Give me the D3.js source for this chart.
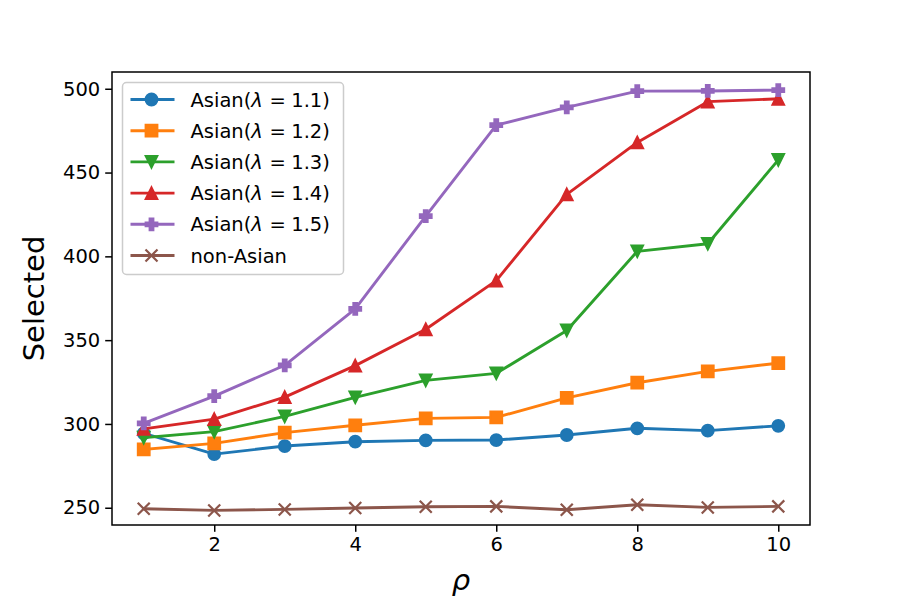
<!DOCTYPE html>
<html>
<head>
<meta charset="utf-8">
<title>Selected vs rho</title>
<style>
    body { margin: 0; background: #fff; }
    svg { display: block; }
    text { font-family: "DejaVu Sans", sans-serif; fill: #000; }
</style>
<script src="https://cdnjs.cloudflare.com/ajax/libs/d3/7.8.5/d3.min.js"></script>
</head>
<body>
<script>
// data
const rho = [1, 2, 3, 4, 5, 6, 7, 8, 9, 10];
const asian11 = [294.4, 282, 286.8, 289.4, 290.2, 290.4, 293.4, 297.4, 296, 298.9];
const asian12 = [284.8, 288.4, 294.8, 299.2, 303.3, 303.9, 315.6, 324.6, 331.4, 336.3];
const asian13 = [291.8, 295.4, 304.5, 315.9, 326, 330.2, 355.8, 403, 407.5, 457.5];
const asian14 = [297, 302.9, 316, 334.8, 356.5, 385.5, 437, 468, 492.3, 494];
const asian15 = [300.3, 316.6, 335, 368.7, 424, 478.3, 488.9, 498.6, 498.7, 499.2];
const nonAsian = [249.4, 248.4, 249, 249.8, 250.6, 250.8, 248.8, 251.8, 250.2, 250.8];
const seriesNames = ['1.1', '1.2', '1.3', '1.4', '1.5', null];
const xTicks = [2, 4, 6, 8, 10];
const yTicks = [250, 300, 350, 400, 450, 500];

const series = [
    { name: seriesNames[0], values: asian11, color: '#1f77b4', marker: 'circle' },
    { name: seriesNames[1], values: asian12, color: '#ff7f0e', marker: 'square' },
    { name: seriesNames[2], values: asian13, color: '#2ca02c', marker: 'tridown' },
    { name: seriesNames[3], values: asian14, color: '#d62728', marker: 'triup' },
    { name: seriesNames[4], values: asian15, color: '#9467bd', marker: 'plus' },
    { name: seriesNames[5], values: nonAsian, color: '#8c564b', marker: 'x' }
];

const W = 900, H = 600;
const margin = { top: 72, right: 90, bottom: 75, left: 112 };
const width = W - margin.left - margin.right;
const height = H - margin.top - margin.bottom;

const x = d3.scaleLinear().domain([0.55, 10.45]).range([0, width]);
const y = d3.scaleLinear().domain([239.7, 510]).range([height, 0]);

const svg = d3.select('body').append('svg')
    .attr('width', W)
    .attr('height', H);

const g = svg.append('g')
    .attr('transform', `translate(${margin.left},${margin.top})`);

// marker shapes, size in px
const ms = 12;
function markerPath(type, s) {
    const h = s / 2;
    if (type === 'circle') return d3.symbol(d3.symbolCircle, Math.PI * h * h)();
    if (type === 'square') return `M${-h},${-h}H${h}V${h}H${-h}Z`;
    if (type === 'triup') return `M0,${-h}L${h},${h}L${-h},${h}Z`;
    if (type === 'tridown') return `M0,${h}L${h},${-h}L${-h},${-h}Z`;
    if (type === 'plus') {
        const a = s / 6;
        return `M${-a},${-h}H${a}V${-a}H${h}V${a}H${a}V${h}H${-a}V${a}H${-h}V${-a}H${-a}Z`;
    }
    return `M${-h},${-h}L${h},${h}M${-h},${h}L${h},${-h}`;
}

function drawMarker(sel, color, type) {
    sel.append('path')
        .attr('d', markerPath(type, ms))
        .attr('fill', type === 'x' ? 'none' : color)
        .attr('stroke', color)
        .attr('stroke-width', type === 'x' ? 2.2 : 1.8)
        .attr('stroke-linejoin', 'miter');
}

const line = d3.line()
    .x((d, i) => x(rho[i]))
    .y(d => y(d));

series.forEach(s => {
    g.append('path')
        .datum(s.values)
        .attr('fill', 'none')
        .attr('stroke', s.color)
        .attr('stroke-width', 2.9)
        .attr('stroke-linejoin', 'round')
        .attr('stroke-linecap', 'square')
        .attr('d', line);

    g.selectAll(null)
        .data(s.values)
        .join('g')
        .attr('transform', (d, i) => `translate(${x(rho[i])},${y(d)})`)
        .each(function () { drawMarker(d3.select(this), s.color, s.marker); });
});

// axes
const xAxis = g.append('g')
    .attr('transform', `translate(0,${height})`)
    .call(d3.axisBottom(x).tickValues(xTicks).tickSize(6.8).tickPadding(5).tickFormat(d3.format('d')));
const yAxis = g.append('g')
    .call(d3.axisLeft(y).tickValues(yTicks).tickSize(6.8).tickPadding(5).tickFormat(d3.format('d')));

[xAxis, yAxis].forEach(a => {
    a.select('.domain').remove();
    a.selectAll('line').attr('stroke', '#000').attr('stroke-width', 1.5);
    a.selectAll('text')
        .style('font-family', '"DejaVu Sans", sans-serif')
        .style('font-size', '19.5px')
        .attr('fill', '#000');
});

// frame
g.append('rect')
    .attr('width', width)
    .attr('height', height)
    .attr('fill', 'none')
    .attr('stroke', '#000')
    .attr('stroke-width', 1.5);

// axis labels
svg.append('text')
    .attr('x', margin.left + width / 2)
    .attr('y', 590)
    .attr('text-anchor', 'middle')
    .style('font-size', '29px')
    .style('font-style', 'italic')
    .text('ρ');

svg.append('text')
    .attr('transform', `translate(44,${margin.top + height / 2}) rotate(-90)`)
    .attr('text-anchor', 'middle')
    .style('font-size', '29px')
    .text('Selected');

// legend
const lg = g.append('g').attr('transform', 'translate(10.5,10.5)');
lg.append('rect')
    .attr('width', 221)
    .attr('height', 192)
    .attr('rx', 4)
    .attr('fill', 'rgba(255,255,255,0.8)')
    .attr('stroke', '#cccccc')
    .attr('stroke-width', 1.5);

series.forEach((s, i) => {
    const row = lg.append('g').attr('transform', `translate(0,${17 + i * 31.2})`);
    row.append('line')
        .attr('x1', 8).attr('x2', 52)
        .attr('stroke', s.color)
        .attr('stroke-width', 2.9);
    const m = row.append('g').attr('transform', 'translate(29,0)');
    drawMarker(m, s.color, s.marker);
    const t = row.append('text')
        .attr('x', 68)
        .attr('dy', '0.36em')
        .style('font-size', '19.5px');
    if (s.name) {
        t.append('tspan').text('Asian(');
        t.append('tspan').style('font-style', 'italic').text('λ');
        t.append('tspan').attr('dx', 6.5).text('=');
        t.append('tspan').attr('dx', 5.5).text(s.name + ')');
    } else {
        t.text('non-Asian');
    }
});
</script>
</body>
</html>
